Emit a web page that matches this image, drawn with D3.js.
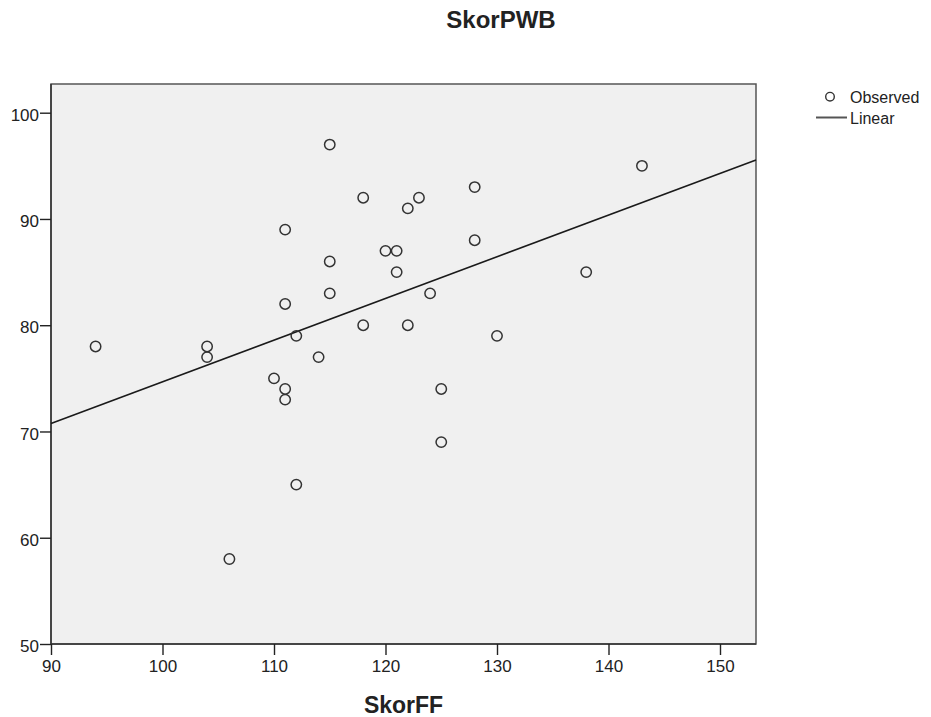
<!DOCTYPE html>
<html>
<head>
<meta charset="utf-8">
<script src="https://cdn.jsdelivr.net/npm/d3@7"></script>
<style>
  body { margin: 0; background: #fff; }
  text { font-family: Arial, "Liberation Sans", sans-serif; fill: #222; }
</style>
</head>
<body>
<script>
var width = 931;
var height = 717;

// observed values (SkorFF on x, SkorPWB on y)
var skorFF = [94, 104, 104, 106, 110, 111, 111, 111, 111, 112, 112, 114, 115, 115, 115,
  118, 118, 120, 121, 121, 122, 122, 123, 124, 125, 125, 128, 128, 130, 138, 143];
var skorPWB = [78, 78, 77, 58, 75, 89, 82, 74, 73, 79, 65, 77, 97, 86, 83,
  92, 80, 87, 87, 85, 91, 80, 92, 83, 74, 69, 93, 88, 79, 85, 95];

var xTicks = [90, 100, 110, 120, 130, 140, 150];
var yTicks = [50, 60, 70, 80, 90, 100];
var legendItems = ['Observed', 'Linear'];

// plot frame
var plotLeft = 51, plotRight = 756, plotTop = 84, plotBottom = 644;

var x = d3.scaleLinear().domain([90, 150]).range([plotLeft, 720]);
var y = d3.scaleLinear().domain([50, 100]).range([plotBottom, 112.7]);

var svg = d3.select('body')
  .append('svg')
  .attr('width', width)
  .attr('height', height);

// background of plot area
svg.append('rect')
  .attr('x', plotLeft)
  .attr('y', plotTop)
  .attr('width', plotRight - plotLeft)
  .attr('height', plotBottom - plotTop)
  .attr('fill', '#f0f0f0')
  .attr('stroke', '#555')
  .attr('stroke-width', 1.5);

// axes
var xAxis = svg.append('g')
  .attr('transform', 'translate(0,' + plotBottom + ')')
  .call(d3.axisBottom(x).tickValues(xTicks).tickSize(11).tickPadding(5).tickSizeOuter(0));
var yAxis = svg.append('g')
  .attr('transform', 'translate(' + plotLeft + ',0)')
  .call(d3.axisLeft(y).tickValues(yTicks).tickSize(11).tickPadding(1).tickSizeOuter(0));

[xAxis, yAxis].forEach(function(a) {
  a.select('.domain').attr('stroke', '#333').attr('stroke-width', 1.5);
  a.selectAll('.tick line').attr('stroke', '#222').attr('stroke-width', 1.4);
  a.selectAll('.tick text')
    .style('font-family', 'Arial, "Liberation Sans", sans-serif')
    .style('font-size', '17px')
    .attr('fill', '#222');
});
xAxis.select('.domain').attr('d', 'M' + plotLeft + ',0H' + plotRight);
yAxis.select('.domain').attr('d', 'M0,' + plotTop + 'V' + plotBottom);
yAxis.selectAll('.tick text').attr('dy', '0.45em');

// linear fit
var mx = d3.mean(skorFF), my = d3.mean(skorPWB);
var sxy = d3.sum(skorFF, function(v, i) { return (v - mx) * (skorPWB[i] - my); });
var sxx = d3.sum(skorFF, function(v) { return (v - mx) * (v - mx); });
var slope = sxy / sxx;
var intercept = my - slope * mx;
var x0 = x.invert(plotLeft), x1 = x.invert(plotRight);

svg.append('line')
  .attr('x1', x(x0))
  .attr('y1', y(intercept + slope * x0))
  .attr('x2', x(x1))
  .attr('y2', y(intercept + slope * x1))
  .attr('stroke', '#1a1a1a')
  .attr('stroke-width', 1.6);

// points
svg.selectAll('circle.obs')
  .data(skorFF)
  .enter()
  .append('circle')
  .attr('class', 'obs')
  .attr('cx', function(d) { return x(d); })
  .attr('cy', function(d, i) { return y(skorPWB[i]); })
  .attr('r', 5.2)
  .attr('fill', 'none')
  .attr('stroke', '#333')
  .attr('stroke-width', 1.5);

// titles
svg.append('text')
  .attr('x', 501)
  .attr('y', 28)
  .attr('text-anchor', 'middle')
  .style('font-size', '24px')
  .style('font-weight', 'bold')
  .attr('fill', '#111')
  .text('SkorPWB');

svg.append('text')
  .attr('x', 403.5)
  .attr('y', 713)
  .attr('text-anchor', 'middle')
  .style('font-size', '23px')
  .style('font-weight', 'bold')
  .attr('fill', '#111')
  .text('SkorFF');

// legend
var lg = svg.append('g');
lg.append('circle')
  .attr('cx', 830)
  .attr('cy', 96.7)
  .attr('r', 4.3)
  .attr('fill', 'none')
  .attr('stroke', '#333')
  .attr('stroke-width', 1.4);
lg.append('line')
  .attr('x1', 816)
  .attr('x2', 847)
  .attr('y1', 117.5)
  .attr('y2', 117.5)
  .attr('stroke', '#555')
  .attr('stroke-width', 2);
lg.selectAll('text')
  .data(legendItems)
  .enter()
  .append('text')
  .attr('x', 850)
  .attr('y', function(d, i) { return 102.5 + i * 21.5; })
  .style('font-size', '16px')
  .text(function(d) { return d; });
</script>
</body>
</html>
